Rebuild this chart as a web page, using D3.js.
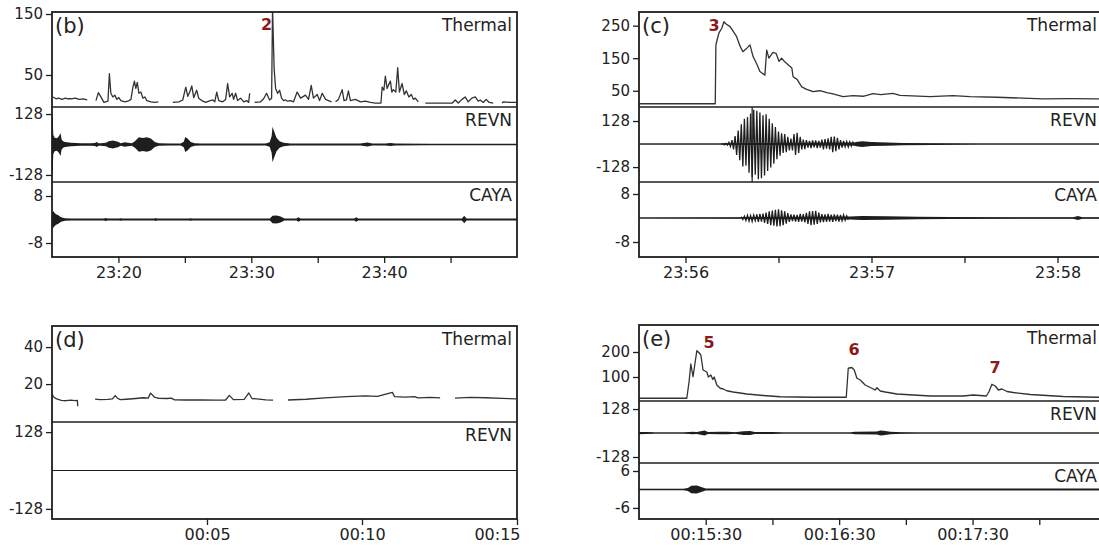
<!DOCTYPE html>
<html>
<head>
<meta charset="utf-8">
<script src="https://cdn.jsdelivr.net/npm/d3@7"></script>
<style>
  body { margin: 0; background: #fff; }
  svg { display: block; }
  text { font-family: "DejaVu Sans", Verdana, sans-serif; fill: #222; }
</style>
</head>
<body>
<svg id="fig" width="1099" height="546"></svg>
<script>
// ---------------------------------------------------------------
// (b) 23:15 – 23:50, times in minutes after 23:15
// ---------------------------------------------------------------
const bThermal = [
  [0.08,14],[0.3,11],[0.5,12],[0.75,10],[1.0,12],[1.2,11],[1.45,11],[1.75,12],[2.05,10],[2.35,11],[2.65,9],[2.8,null],
  [3.31,8],[3.49,21],[3.68,14],[3.91,5],[4.21,7],[4.32,52],[4.43,20],[4.58,14],[4.73,17],[4.88,10],[5.03,13],[5.18,8],
  [5.48,6],[5.71,7],[5.94,10],[6.09,30],[6.2,40],[6.31,28],[6.42,38],[6.54,20],[6.69,22],[6.84,12],[6.99,14],[7.14,8],
  [7.44,6],[7.74,5],[8.0,6],[8.3,null],
  [9.09,5],[9.54,6],[9.84,9],[10.07,30],[10.22,15],[10.37,22],[10.52,32],[10.67,13],[10.89,25],[11.04,12],[11.27,8],
  [11.57,5],[11.8,7],[12.1,9],[12.25,6],[12.4,22],[12.55,8],[12.85,6],[13.07,10],[13.22,36],[13.37,14],[13.56,20],
  [13.67,10],[13.82,20],[13.97,8],[14.2,12],[14.43,6],[14.65,8],[14.8,5],[14.88,20],[15.0,null],
  [15.25,5],[15.7,6],[15.93,11],[16.15,20],[16.38,9],[16.53,12],[16.6,160],[16.72,60],[16.83,28],[16.98,20],[17.13,25],
  [17.28,12],[17.43,8],[17.58,9],[17.73,7],[17.96,8],[18.18,6],[18.45,22],[18.71,12],[19.08,17],[19.31,10],[19.51,33],
  [19.68,12],[19.96,18],[20.14,8],[20.34,20],[20.59,10],[20.81,8],[21.04,6],[21.2,null],
  [21.34,6],[21.56,10],[21.84,26],[21.98,8],[22.16,9],[22.31,24],[22.46,8],[22.84,10],[23.22,6],[23.59,7],[23.97,5],
  [24.34,4],[24.76,4],[24.85,30],[24.98,25],[25.09,48],[25.22,28],[25.36,35],[25.47,40],[25.58,22],[25.69,26],[25.88,22],
  [26.02,62],[26.15,22],[26.35,36],[26.52,18],[26.67,24],[26.86,14],[27.05,18],[27.2,10],[27.35,12],[27.57,6],[27.8,null],
  [28.1,4],[29.23,4],[30.13,4],[30.35,9],[30.58,4],[30.86,10],[31.1,14],[31.33,6],[31.6,12],[31.86,14],[32.08,7],
  [32.23,9],[32.46,5],[32.68,10],[32.91,5],[33.21,4],[33.5,null],
  [33.88,4],[33.96,6],[34.49,5],[35,5]
];
// seismic envelopes: [minutes, half-amplitude in counts]
const bRevnEnv = [
  [0,126],[0.05,110],[0.1,40],[0.2,28],[0.38,26],[0.53,36],[0.64,48],[0.72,22],[0.83,14],[0.98,10],[1.43,7],[2.18,5],
  [2.93,5],[3.23,6],[3.38,11],[3.5,5],[3.68,5],[4.06,7],[4.28,14],[4.58,17],[4.96,12],[5.18,5],[5.48,9],[5.71,7],
  [6.01,5],[6.24,14],[6.54,30],[6.84,27],[7.14,30],[7.44,25],[7.74,11],[8.04,5],[8.94,4],[9.69,4],[9.92,12],[10.03,31],
  [10.22,24],[10.44,11],[10.74,5],[11.19,4],[16.08,4],[16.38,9],[16.53,35],[16.6,75],[16.75,50],[16.9,28],[17.13,14],
  [17.43,7],[17.96,4],[23.2,4],[23.74,8],[24.12,4],[25.1,4],[25.47,6],[25.85,4],[28.5,3.5],[35,3.5]
];
const bCayaEnv = [
  [0,2.5],[0.08,3.0],[0.15,2.5],[0.3,1.8],[0.45,1.5],[0.68,0.8],[0.98,0.45],[1.43,0.3],[3.9,0.3],[4.06,0.5],[4.2,0.3],
  [5.05,0.3],[5.18,0.45],[5.3,0.3],[7.7,0.3],[7.81,0.5],[7.9,0.3],[10.3,0.3],[10.44,0.45],[10.6,0.3],[16.4,0.3],
  [16.6,1.3],[16.9,1.4],[17.2,1.0],[17.5,0.35],[18.4,0.3],[18.56,0.8],[18.7,0.3],[22.75,0.3],[22.9,0.8],[23.05,0.3],
  [30.85,0.3],[31.03,1.3],[31.2,0.3],[35,0.3]
];
const bEvents = [["2", 16.15, 132]];

// ---------------------------------------------------------------
// (c) 23:55:45 – 23:58:15, times in seconds after 23:55:45
// ---------------------------------------------------------------
const cThermal = [
  [0,10],[24.6,10],[24.8,190],[25.2,206],[25.8,228],[26.7,242],[27.4,262],[28.1,255],[29.4,247],[31.5,216],[32.6,187],
  [33.5,170],[34.5,178],[35.8,191],[36.8,155],[38.1,130],[39,109],[40.6,98],[41.2,175],[41.9,150],[43.2,168],[44.2,165],
  [45.2,140],[46,150],[47.1,138],[48.1,130],[49.3,120],[49.7,93],[51,85],[52.5,62],[53.9,55],[56.1,47],[58.4,50],
  [60.6,44],[62.6,40],[65.8,32],[69,35],[72.3,33],[75.5,41],[78,38],[81.9,42],[84.2,36],[93.9,32],[101.3,35],
  [106.8,32],[115.5,30],[130.3,25],[139,26],[150,25]
];
// REVN extrema, one every half second from 27 s
const cRevnStart = 27, cRevnStep = 0.5;
const cRevnWave = [
  4,-5,3,-6,10,-14,22,-30,45,-60,75,-90,110,-125,140,-120,150,-160,170,-185,190,-170,185,-195,175,-190,160,-175,
  165,-150,140,-130,115,-110,95,-85,70,-65,60,-50,55,-45,40,-35,30,-35,55,-60,62,-50,40,-30,25,-28,22,-20,18,-22,
  20,-18,20,-22,18,-20,25,-30,28,-25,32,-30,40,-45,42,-40,35,-30,22,-20,18,-15,14,-16,12,-12,10,-10
];
const cRevnEnv = [[0,2.5],[26,2.5],[27,4],[69.5,8],[70,12],[72,16],[75,11],[80,9],[85,6],[95,5],[110,3],[150,2.5]];
// CAYA extrema, one every half second from 33 s
const cCayaStart = 33, cCayaStep = 0.5;
const cCayaWave = [
  0.4,-0.5,0.6,-0.8,0.9,-1.0,0.8,-1.1,1.0,-0.9,1.2,-1.3,1.4,-1.2,1.5,-1.6,1.8,-2.0,2.2,-2.4,2.5,-2.6,2.7,-2.8,2.9,
  -2.7,2.6,-2.4,2.2,-1.9,1.6,-1.3,1.2,-1.0,1.1,-1.2,1.0,-1.3,1.4,-1.2,1.3,-1.5,1.7,-2.0,2.2,-2.4,2.3,-2.2,2.4,-2.0,
  1.8,-1.5,1.3,-1.4,1.2,-1.3,1.4,-1.2,1.1,-1.3,1.2,-1.0,1.1,-1.2,1.0,-0.9,1.0,-0.8,0.7,-0.6
];
const cCayaEnv = [[0,0.2],[33,0.25],[68,0.5],[72,0.7],[80,0.6],[90,0.45],[100,0.35],[120,0.25],[140,0.25],[141.6,0.7],[143,0.25],[150,0.2]];
const cMarkerSec = 36.5;
const cEvents = [["3", 24.2, 252]];

// ---------------------------------------------------------------
// (d) 00:00 – 00:15, times in minutes after 00:00
// ---------------------------------------------------------------
const dThermal = [
  [0,14.6],[0.05,13],[0.15,12],[0.3,11.2],[0.45,11],[0.6,11.3],[0.75,11],[0.82,11.2],[0.83,8],[0.9,null],
  [1.39,11.9],[1.55,11.6],[1.8,11.7],[1.95,12],[2.04,13.8],[2.1,12.5],[2.2,11.6],[2.4,11.8],[2.7,12.2],[2.95,12.6],
  [3.1,12.4],[3.18,15.1],[3.3,13],[3.45,12.3],[3.7,12.2],[3.85,12.4],[3.95,11.5],[4.3,11.4],[4.8,11.5],[5.3,11.3],
  [5.6,11.4],[5.72,13.9],[5.85,11.6],[6.2,11.7],[6.35,15.2],[6.45,12.2],[6.6,12],[6.9,11.5],[7.13,11.3],[7.3,null],
  [7.61,11.4],[8.2,11.8],[8.8,12.5],[9.5,13.2],[10.1,13.6],[10.5,13.3],[10.98,15.5],[11.05,13.2],[11.4,12.9],
  [11.7,13.2],[11.8,12.5],[12.2,12.8],[12.52,12.5],[12.7,null],
  [13.0,12.4],[13.5,12.8],[14.0,12.6],[14.5,12.3],[14.97,12.0]
];
const dRevnEnv = [[0,1.5],[15,1.5]];

// ---------------------------------------------------------------
// (e) 00:15:00 – 00:18:30, times in seconds after 00:15:00
// ---------------------------------------------------------------
const eThermal = [
  [0,15],[21.5,15],[22.5,80],[23.3,152],[24.3,101],[26,205],[26.9,198],[27.8,188],[28.8,128],[30.5,120],[31.2,100],
  [32.3,108],[33.2,90],[33.8,100],[35,68],[36.5,55],[37.9,52],[39.5,45],[42.3,40],[48.5,32],[55.8,26],[63.5,21],
  [78.3,19],[93.2,19],[94.1,135],[95.7,138],[96.8,128],[98,95],[99.5,88],[101.7,68],[104.7,55],[106.2,48],[107,57],
  [108.5,44],[110.7,40],[116,32],[123.3,28],[131,24],[145.8,24],[150.3,28],[156.2,24],[157.3,40],[158.7,71],
  [160.2,64],[161.6,48],[163.2,52],[165.5,42],[168.3,38],[176,30],[190.8,22],[206,19],[210,19]
];
const eRevnEnv = [
  [0,6],[3,5],[6,4],[7,2.5],[20,2.5],[24,7],[26,5],[29.5,13],[31,5],[36,7],[40,7],[43,4],[47,10],[50,11],[52,5],
  [60,5],[65,3],[95,3],[97,7],[107,8],[108.5,13],[110,12],[113,7],[118,4],[125,2.5],[210,2.5]
];
const eCayaEnv = [
  [0,0.25],[20,0.25],[22,0.5],[23.5,1.2],[26,1.3],[28,0.8],[30,0.35],[50,0.3],[60,0.35],[100,0.35],[150,0.3],[210,0.3]
];
const eEvents = [["5", 31.5, 240], ["6", 96.7, 212], ["7", 160.1, 140]];

// ---------------------------------------------------------------
// tick values and labels
// ---------------------------------------------------------------
const bTimeTicks = ["23:20", "23:30", "23:40"], bMinorTicks = ["23:25", "23:35", "23:45"];
const cTimeTicks = ["23:56", "23:57", "23:58"], cMinorTicks = ["23:56:30", "23:57:30"];
const dTimeTicks = ["00:05", "00:10", "00:15"], dMinorTicks = [];
const eTimeTicks = ["00:15:30", "00:16:30", "00:17:30"], eMinorTicks = ["00:16:00", "00:17:00", "00:18:00"];

const bThermalTicks = [50, 150], cThermalTicks = [50, 150, 250], dThermalTicks = [20, 40], eThermalTicks = [100, 200];
const revnTicks = [-128, 128];
const bCayaTicks = [-8, 8], cCayaTicks = [-8, 8], eCayaTicks = [-6, 6];
const stationNames = ["Thermal", "REVN", "CAYA"];

// ---------------------------------------------------------------
const hms = s => { const p = s.split(":").map(Number); return p[0] * 3600 + p[1] * 60 + (p[2] || 0); };

const svg = d3.select("#fig");
const defs = svg.append("defs");
const VIEW_W = +svg.attr("width");
let clipCount = 0;

const INK = "#1e1e1e";
const FONT = '"DejaVu Sans", Verdana, sans-serif';

function drawPanel(cfg) {
  const g = svg.append("g");
  const t0 = hms(cfg.t0);
  const x = d3.scaleLinear().domain([t0, hms(cfg.t1)]).range([cfg.left, cfg.right]);
  const tx = t => x(t0 + t * cfg.unit);
  const width = cfg.right - cfg.left;
  const labelRight = Math.min(cfg.right - 5, VIEW_W - 2);
  let thermalY = null;

  cfg.rows.forEach(row => {
    const y = d3.scaleLinear().domain(row.domain).range([row.bottom, row.top]);
    const id = "clip" + (clipCount++);
    defs.append("clipPath").attr("id", id)
      .append("rect").attr("x", cfg.left).attr("y", row.top).attr("width", width).attr("height", row.bottom - row.top);
    const body = g.append("g").attr("clip-path", `url(#${id})`);

    if (row.thermal) {
      thermalY = y;
      body.append("path")
        .attr("fill", "none")
        .attr("stroke", "#333")
        .attr("stroke-width", 1.3)
        .attr("stroke-linejoin", "round")
        .attr("d", d3.line().defined(d => d[1] !== null).x(d => tx(d[0])).y(d => y(d[1]))(row.thermal));
    } else {
      // zero line
      body.append("line")
        .attr("x1", cfg.left).attr("x2", cfg.right)
        .attr("y1", y(0)).attr("y2", y(0))
        .attr("stroke", "#333").attr("stroke-width", 1);
      // amplitude envelope
      if (row.env) {
        body.append("path")
          .attr("fill", INK)
          .attr("d", d3.area().x(d => tx(d[0])).y0(d => y(-d[1])).y1(d => y(d[1]))(row.env));
      }
      // resolved waveform
      if (row.wave) {
        const pts = row.wave.map((v, i) => [row.waveStart + i * row.waveStep, v]);
        body.append("path")
          .attr("fill", "none").attr("stroke", INK).attr("stroke-width", 1.3)
          .attr("d", d3.line().x(d => tx(d[0])).y(d => y(d[1]))(pts));
      }
      if (row.marker !== undefined) {
        body.append("line")
          .attr("x1", tx(row.marker)).attr("x2", tx(row.marker))
          .attr("y1", row.top).attr("y2", row.bottom)
          .attr("stroke", INK).attr("stroke-width", 1.2);
      }
    }

    // left axis
    const ax = g.append("g").attr("transform", `translate(${cfg.left},0)`)
      .call(d3.axisLeft(y).tickValues(row.ticks).tickSize(6).tickPadding(3).tickFormat(d => String(d)));
    ax.select(".domain").remove();
    ax.selectAll(".tick line").attr("stroke", INK).attr("stroke-width", 1.3);
    ax.selectAll(".tick text").attr("font-size", 15).attr("fill", "#222").style("font-family", FONT);

    // station name
    g.append("text")
      .attr("x", labelRight).attr("y", row.top + 18.5)
      .attr("text-anchor", "end").attr("font-size", 17)
      .text(row.name);
  });

  // separators and frame
  cfg.rows.slice(0, -1).forEach(row => {
    g.append("line").attr("x1", cfg.left).attr("x2", cfg.right)
      .attr("y1", row.bottom).attr("y2", row.bottom)
      .attr("stroke", INK).attr("stroke-width", 1.6);
  });
  const top = cfg.rows[0].top, bottom = cfg.rows[cfg.rows.length - 1].bottom;
  g.append("rect").attr("x", cfg.left).attr("y", top).attr("width", width).attr("height", bottom - top)
    .attr("fill", "none").attr("stroke", INK).attr("stroke-width", 1.8);

  // time axis
  const major = cfg.ticks.map(hms), minor = cfg.minor.map(hms);
  const labelOf = new Map(cfg.ticks.map(s => [hms(s), s]));
  const xa = g.append("g").attr("transform", `translate(0,${bottom})`)
    .call(d3.axisBottom(x).tickValues(major.concat(minor)).tickSize(6).tickPadding(4)
      .tickFormat(v => labelOf.get(v) || ""));
  xa.select(".domain").remove();
  xa.selectAll(".tick line").attr("stroke", INK).attr("stroke-width", 1.3);
  xa.selectAll(".tick text").attr("font-size", 16).attr("fill", "#222").style("font-family", FONT)
    .each(function (v) {
      const w = this.getComputedTextLength();
      if (x(v) + w / 2 > cfg.right + 3) {
        d3.select(this).attr("text-anchor", "end").attr("x", cfg.right + 3 - x(v));
      }
    });

  // panel letter
  g.append("text").attr("x", cfg.left + 3).attr("y", top + 21).attr("font-size", 21).text(cfg.letter);

  // event numbers
  cfg.events.forEach(e => {
    g.append("text")
      .attr("x", tx(e[1])).attr("y", thermalY(e[2]))
      .attr("text-anchor", "middle").attr("dominant-baseline", "central")
      .attr("font-size", 16).attr("font-weight", "bold")
      .style("fill", "#8c1a1a")
      .text(e[0]);
  });
}

drawPanel({
  letter: "(b)", t0: "23:15", t1: "23:50", unit: 60, left: 52, right: 517,
  ticks: bTimeTicks, minor: bMinorTicks, events: bEvents,
  rows: [
    { name: stationNames[0], thermal: bThermal, domain: [-2.5, 153.3], top: 12, bottom: 107, ticks: bThermalTicks },
    { name: stationNames[1], env: bRevnEnv, domain: [-157.6, 157.6], top: 107, bottom: 182, ticks: revnTicks },
    { name: stationNames[2], env: bCayaEnv, domain: [-12.76, 12.76], top: 182, bottom: 257, ticks: bCayaTicks }
  ]
});

drawPanel({
  letter: "(c)", t0: "23:55:45", t1: "23:58:15", unit: 1, left: 639, right: 1104,
  ticks: cTimeTicks, minor: cMinorTicks, events: cEvents,
  rows: [
    { name: stationNames[0], thermal: cThermal, domain: [0, 292], top: 12, bottom: 107, ticks: cThermalTicks },
    { name: stationNames[1], env: cRevnEnv, wave: cRevnWave, waveStart: cRevnStart, waveStep: cRevnStep,
      marker: cMarkerSec, domain: [-211, 206], top: 107, bottom: 182, ticks: revnTicks },
    { name: stationNames[2], env: cCayaEnv, wave: cCayaWave, waveStart: cCayaStart, waveStep: cCayaStep,
      domain: [-13, 12], top: 182, bottom: 257, ticks: cCayaTicks }
  ]
});

drawPanel({
  letter: "(d)", t0: "00:00", t1: "00:15", unit: 60, left: 52, right: 517,
  ticks: dTimeTicks, minor: dMinorTicks, events: [],
  rows: [
    { name: stationNames[0], thermal: dThermal, domain: [-0.5, 51.4], top: 326, bottom: 422, ticks: dThermalTicks },
    { name: stationNames[1], env: dRevnEnv, domain: [-161.7, 161.7], top: 422, bottom: 519, ticks: revnTicks }
  ]
});

drawPanel({
  letter: "(e)", t0: "00:15:00", t1: "00:18:30", unit: 1, left: 639, right: 1106,
  ticks: eTimeTicks, minor: eMinorTicks, events: eEvents,
  rows: [
    { name: stationNames[0], thermal: eThermal, domain: [4, 308], top: 325, bottom: 401, ticks: eThermalTicks },
    { name: stationNames[1], env: eRevnEnv, domain: [-160, 171], top: 401, bottom: 463, ticks: revnTicks },
    { name: stationNames[2], env: eCayaEnv, domain: [-9.6, 8.6], top: 463, bottom: 519, ticks: eCayaTicks }
  ]
});
</script>
</body>
</html>
